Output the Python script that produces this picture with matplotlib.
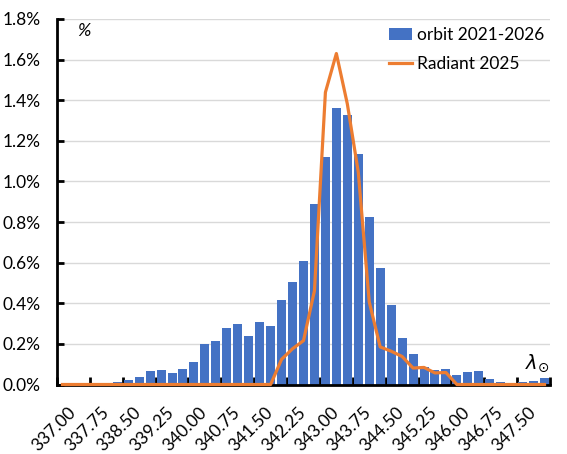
import matplotlib
matplotlib.use("Agg")
import matplotlib.pyplot as plt
import matplotlib.transforms as mtransforms
import numpy as np
from matplotlib.ticker import FuncFormatter

plt.rcParams['font.family'] = ['Lato', 'DejaVu Sans']

# categories: solar longitude 337.00 .. 348.00 step 0.25
categories = [f"{337.0 + 0.25 * k:.2f}" for k in range(45)]

orbit_2021_2026 = [0, 0, 0, 0, 0, 0.012, 0.022, 0.037, 0.066, 0.071,
                   0.057, 0.076, 0.111, 0.199, 0.214, 0.278, 0.297, 0.238, 0.307, 0.287,
                   0.415, 0.504, 0.607, 0.888, 1.118, 1.364, 1.329, 1.133, 0.823, 0.572,
                   0.391, 0.229, 0.150, 0.086, 0.071, 0.078, 0.047, 0.061, 0.066, 0.027,
                   0.012, 0, 0.012, 0.017, 0.032]

radiant_2025 = [0, 0, 0, 0, 0, 0, 0, 0, 0, 0,
                0, 0, 0, 0, 0, 0, 0, 0, 0, 0,
                0.124, 0.176, 0.216, 0.462, 1.439, 1.630, 1.382, 1.046, 0.407, 0.185,
                0.164, 0.138, 0.081, 0.084, 0.057, 0.059, 0, 0, 0, 0,
                0, 0, 0, 0, 0]

y_ticks = [0.0, 0.2, 0.4, 0.6, 0.8, 1.0, 1.2, 1.4, 1.6, 1.8]

BLUE = '#4472C4'
ORANGE = '#ED7D31'

fig = plt.figure(figsize=(5.67, 4.54), dpi=100)
ax = fig.add_axes([57/567, 1 - 384.5/454, (550-57)/567, (384.5-19)/454])

x = np.arange(len(categories))
bars = ax.bar(x, orbit_2021_2026, width=0.82, color=BLUE, label='orbit 2021-2026', zorder=2)
line, = ax.plot(x, radiant_2025, color=ORANGE, lw=2.3, label='Radiant 2025', zorder=6,
                solid_joinstyle='round', clip_on=False)

ax.set_xlim(-0.5, len(categories) - 0.5)
ax.set_ylim(0, 1.8)
ax.set_yticks(y_ticks)
ax.yaxis.set_major_formatter(FuncFormatter(lambda v, p: f"{v:.1f}%"))
ax.grid(axis='y', color='#d9d9d9', lw=1.0, zorder=0)
ax.set_axisbelow(True)

# x labels every third category, tick marks at category boundaries
ax.set_xticks(x[::3])
ax.set_xticklabels(categories[::3], rotation=45, ha='right', va='top',
                   rotation_mode='anchor')
ax.tick_params(axis='x', which='major', length=0, pad=0, labelsize=12.5)
shift = mtransforms.ScaledTranslation(5/100, -20/100, fig.dpi_scale_trans)
for lab in ax.get_xticklabels():
    lab.set_transform(lab.get_transform() + shift)
ax.set_xticks(np.arange(-0.5, len(categories), 3), minor=True)
ax.tick_params(axis='x', which='minor', direction='in', length=6, width=2, color='black')
ax.tick_params(axis='y', direction='in', length=5, width=2, labelsize=12.5, pad=12)

for s in ['top', 'right']:
    ax.spines[s].set_visible(False)
for s in ['left', 'bottom']:
    ax.spines[s].set_linewidth(2)
    ax.spines[s].set_color('black')
    ax.spines[s].set_zorder(4)

ax.text(0.04, 0.99, '%', transform=ax.transAxes, fontsize=13, style='italic',
        ha='left', va='top')
ax.text(1.0, 0.03, r'$\lambda_{\odot}$', transform=ax.transAxes, fontsize=14,
        ha='right', va='bottom')

leg = ax.legend(handles=[bars, line], loc='upper right', bbox_to_anchor=(1.02, 1.02),
                frameon=False, fontsize=12.5, handlelength=1.3, handletextpad=0.3,
                labelspacing=0.75)

fig.savefig('out.png', dpi=100)
